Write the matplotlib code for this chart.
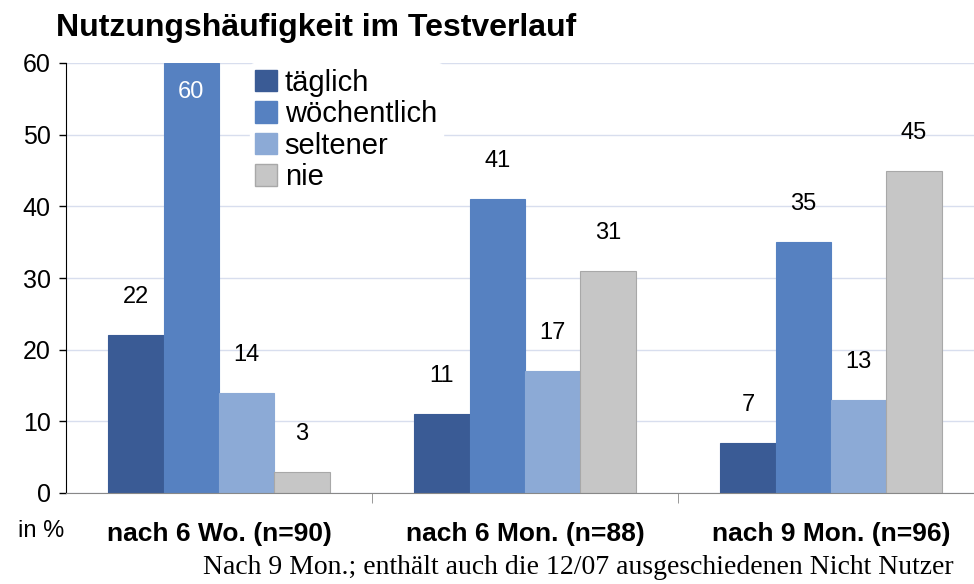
import numpy as np
import matplotlib
matplotlib.use('Agg')
import matplotlib.pyplot as plt
from matplotlib.patches import Patch

plt.rcParams['font.family'] = ['Liberation Sans', 'DejaVu Sans']

groups = ['nach 6 Wo. (n=90)', 'nach 6 Mon. (n=88)', 'nach 9 Mon. (n=96)']
series = ['täglich', 'wöchentlich', 'seltener', 'nie']
taeglich = [22, 11, 7]
woechentlich = [60, 41, 35]
seltener = [14, 17, 13]
nie = [3, 31, 45]
colors = ['#3A5B95', '#5681C1', '#8CAAD6', '#C6C6C6']
edges = ['#3A5B95', '#5681C1', '#8CAAD6', '#A8A8A8']

values = [taeglich, woechentlich, seltener, nie]

fig = plt.figure(figsize=(9.74, 5.84), dpi=100)
ax = fig.add_axes([66 / 974, 1 - 493 / 584, 918 / 974, 430 / 584])

x = np.arange(len(groups))
w = 0.181
for i, vals in enumerate(values):
    pos = x + (i - 1.5) * w
    ax.bar(pos, vals, width=w, color=colors[i], edgecolor=edges[i],
           linewidth=0.8, zorder=2)
    for p, v in zip(pos, vals):
        if v >= 58:
            ax.text(p, v - 4.0, str(v), ha='center', va='center',
                    fontsize=17, color='white', zorder=3)
        else:
            ax.text(p, v + 5.3, str(v), ha='center', va='center',
                    fontsize=17, color='black', zorder=3)

ax.set_xlim(-0.5, 2.5)
ax.set_ylim(0, 60)
ax.set_yticks(range(0, 61, 10))
ax.yaxis.grid(True, color='#D8DEEE', linewidth=1, zorder=0)
ax.set_axisbelow(True)
ax.tick_params(axis='y', labelsize=18, length=5, width=1, pad=6)

ax.set_xticks(x)
ax.set_xticklabels(groups, fontsize=19, fontweight='bold')
ax.tick_params(axis='x', which='major', length=0, pad=21)
ax.set_xticks([0.5, 1.5], minor=True)
ax.tick_params(axis='x', which='minor', length=7, color='#888888')

for s in ['top', 'right']:
    ax.spines[s].set_visible(False)
ax.spines['left'].set_color('black')
ax.spines['bottom'].set_color('#888888')

handles = [Patch(facecolor=colors[i], edgecolor=edges[i]) for i in range(4)]
leg = ax.legend(handles, series, loc='upper left',
                bbox_to_anchor=(0.2, 1.0), fontsize=21, frameon=True,
                handlelength=0.75, handleheight=0.75, handletextpad=0.25,
                labelspacing=0.12, borderpad=0.2, borderaxespad=0.0)
leg.get_frame().set_facecolor('white')
leg.get_frame().set_edgecolor('white')
leg.get_frame().set_alpha(1)
leg.set_zorder(5)

fig.text(56 / 974, 1 - 28 / 584, 'Nutzungshäufigkeit im Testverlauf',
         fontsize=23, fontweight='bold', va='center', ha='left')
fig.text(18 / 974, 1 - 531 / 584, 'in %', fontsize=17, va='center',
         ha='left')
fig.text(578 / 974, 1 - 567 / 584,
         'Nach 9 Mon.; enthält auch die 12/07 ausgeschiedenen Nicht Nutzer',
         fontsize=20, va='center', ha='center',
         family=['Liberation Serif', 'DejaVu Serif'])

fig.savefig('out.png', dpi=100)
